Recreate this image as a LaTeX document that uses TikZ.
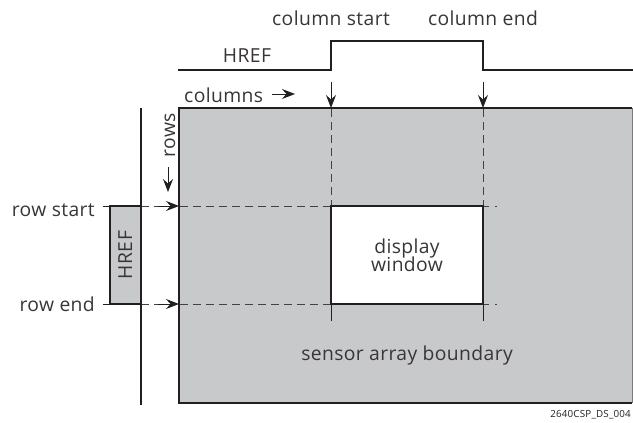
\documentclass[tikz,border=0pt]{standalone}
\usepackage{fontspec}
\setmainfont{Open Sans}[LetterSpace=2]
\usetikzlibrary{arrows.meta}
\definecolor{ink}{HTML}{231F20}
\definecolor{sensor}{HTML}{C8C9CB}
\begin{document}
\begin{tikzpicture}[x=1pt,y=-1pt,
  thickln/.style={draw=ink,line width=2.4pt},
  midln/.style={draw=ink,line width=1.8pt},
  dashln/.style={draw=ink!85,line width=1pt,dash pattern=on 8pt off 5pt},
  tip/.style={-{Stealth[length=13pt,width=10pt,inset=4.5pt]}},
  lbl/.style={inner sep=0pt,text=ink!90,font=\fontsize{19.3}{21}\selectfont},
  small/.style={inner sep=0pt,text=ink,font=\fontsize{9.8}{12}\selectfont}]
\useasboundingbox (0,0) rectangle (633,423);
% sensor array
\path[fill=sensor] (179,108) rectangle (632,403);
\draw[ink!60,line width=1pt] (632,108) -- (632,403);
\draw[thickln] (632,108) -- (179,108) -- (179,403) -- (632,403);
% display window
\path[fill=white] (331,206) rectangle (483,304);
% dashed guides
\draw[dashln] (141,206) -- (331,206);
\draw[dashln] (141,304) -- (331,304);
\draw[dashln,dash pattern=on 6pt off 6pt on 1.5pt off 20pt] (483,206) -- (499,206);
\draw[dashln,dash pattern=on 6pt off 6pt on 1.5pt off 20pt] (483,304) -- (499,304);
\draw[dashln] (331,96) -- (331,206);
\draw[dashln] (483,96) -- (483,206);
\draw[ink,line width=1pt] (331,304) -- (331,321);
\draw[ink,line width=1pt] (483,304) -- (483,321);
\draw[ink,line width=2pt] (331,206) rectangle (483,304);
% arrows onto the array
\coordinate (cs) at (331,108);
\coordinate (ce) at (483,108);
\coordinate (rs) at (179,206);
\coordinate (re) at (179,304);
\draw[ink,line width=1pt,tip] (331,82) -- (cs);
\draw[ink,line width=1pt,tip] (483,82) -- (ce);
\draw[ink,line width=1pt,tip] (158,206) -- (rs);
\draw[ink,line width=1pt,tip] (158,304) -- (re);
% HREF column signal
\draw[thickln] (178,70) -- (331,70) -- (331,41) -- (483,41) -- (483,70) -- (633,70);
% row HREF signal
\path[fill=sensor] (110,206) rectangle (141,304);
\draw[thickln] (141,206) -- (110,206) -- (110,304) -- (141,304);
\draw[ink,line width=1pt] (103,206) -- (110,206);
\draw[ink,line width=1pt] (103,304) -- (110,304);
\draw[midln] (141,108) -- (141,405);
% direction arrows
\node[lbl,anchor=base west] (cols) at (184,102) {columns};
\coordinate (colsstart) at (272,94);
\coordinate (colsend) at (295,94);
\draw[ink,line width=1pt,tip] (colsstart) -- (colsend);
\node[lbl,rotate=90,anchor=base east] (rows) at (175,113) {rows};
\coordinate (rowsstart) at (168,167);
\coordinate (rowsend) at (168,192);
\draw[ink,line width=1pt,tip] (rowsstart) -- (rowsend);
% labels
\node[lbl,anchor=base] (lcs) at (331,25) {column start};
\node[lbl,anchor=base] (lce) at (483,25) {column end};
\node[lbl,anchor=base] (href1) at (247,63) {HREF};
\node[lbl,rotate=90,anchor=base] (href2) at (132,255) {HREF};
\node[lbl,anchor=base east] (lrs) at (95,216) {row start};
\node[lbl,anchor=base east] (lre) at (95,311) {row end};
\node[lbl,align=center] (dw) at (407,255) {display\\[-3pt]window};
\node[lbl,anchor=base] (sab) at (407,360) {sensor array boundary};
\node[small,anchor=base east] (id) at (631,417) {2640CSP\_DS\_004};
\end{tikzpicture}
\end{document}
